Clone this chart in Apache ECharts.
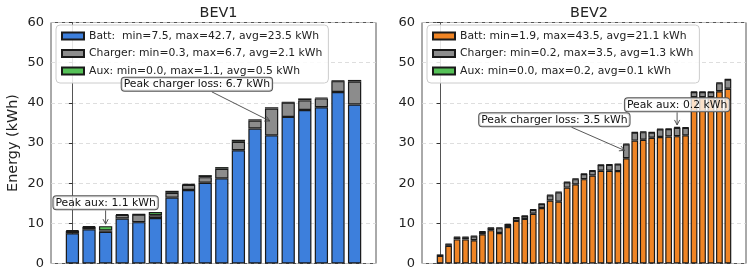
<!DOCTYPE html>
<html>
<head>
<meta charset="utf-8">
<script src="https://cdn.jsdelivr.net/npm/echarts@6/dist/echarts.min.js"></script>
<style>
  html, body { margin: 0; padding: 0; background: #fff; }
  #chart { width: 750px; height: 271px; }
</style>
</head>
<body>
<div id="chart"></div>
<script>
// panel titles
const titles = ['BEV1', 'BEV2']

// BEV1 stacked energy per trip (kWh)
const bev1Batt = [7.5, 8.5, 7.9, 11.2, 10.3, 11.3, 16.4, 18.3, 20.1, 21.2, 28.2, 33.6, 31.9, 36.5, 38.2, 38.9, 42.7, 39.6]
const bev1Charger = [0.6, 0.6, 0.3, 0.9, 1.9, 0.7, 1.2, 1.3, 1.4, 2.4, 2.1, 2.0, 6.7, 3.6, 2.4, 2.2, 2.7, 5.7]
const bev1Aux = [0.2, 0.2, 1.1, 0.2, 0.1, 0.8, 0.5, 0.2, 0.5, 0.4, 0.5, 0.3, 0.3, 0.1, 0.5, 0.2, 0.1, 0.4]

// BEV2 stacked energy per trip (kWh)
const bev2Batt = [1.9, 4.4, 6.0, 6.0, 5.8, 7.3, 8.3, 7.6, 9.1, 10.6, 11.1, 12.4, 13.8, 15.7, 15.4, 18.9, 19.7, 21.0, 21.9, 23.1, 23.1, 23.0, 26.2, 30.6, 30.8, 31.3, 31.5, 31.6, 31.7, 31.9, 41.4, 41.4, 41.4, 42.9, 43.5]
const bev2Charger = [0.2, 0.4, 0.5, 0.5, 1.0, 0.6, 0.5, 1.2, 0.6, 0.8, 0.7, 1.0, 1.0, 1.3, 2.3, 1.3, 1.3, 1.3, 1.2, 1.4, 1.5, 1.7, 3.5, 2.0, 1.9, 1.3, 1.9, 1.9, 2.1, 1.9, 1.3, 1.3, 1.3, 2.0, 2.3]
const bev2Aux = [0.0, 0.1, 0.1, 0.1, 0.1, 0.1, 0.1, 0.1, 0.1, 0.1, 0.1, 0.1, 0.1, 0.1, 0.1, 0.1, 0.1, 0.1, 0.1, 0.1, 0.1, 0.1, 0.1, 0.1, 0.1, 0.1, 0.1, 0.1, 0.2, 0.1, 0.1, 0.1, 0.1, 0.1, 0.1]

// legend labels
const bev1Labels = ['Batt:  min=7.5, max=42.7, avg=23.5 kWh', 'Charger: min=0.3, max=6.7, avg=2.1 kWh', 'Aux: min=0.0, max=1.1, avg=0.5 kWh']
const bev2Labels = ['Batt: min=1.9, max=43.5, avg=21.1 kWh', 'Charger: min=0.2, max=3.5, avg=1.3 kWh', 'Aux: min=0.0, max=0.2, avg=0.1 kWh']

// y ticks
const yMin = 0
const yMax = 60
const yStep = 10

// where the annotation boxes sit, in [bar index, kWh]
const chargerNotePos = [[7.5, 44.6], [13.5, 35.8]]
const auxNotePos = [[2, 15.1], [28, 39.5]]

const panels = [
  { batt: bev1Batt, charger: bev1Charger, aux: bev1Aux, labels: bev1Labels, battColor: '#3d7fdc' },
  { batt: bev2Batt, charger: bev2Charger, aux: bev2Aux, labels: bev2Labels, battColor: '#ef8424' }
]

const FONT = '"DejaVu Sans", sans-serif'
const frames = [
  { left: 51, top: 22.5, width: 325, height: 241 },
  { left: 422, top: 22.5, width: 324, height: 241 }
]

const chart = echarts.init(document.getElementById('chart'), null, { renderer: 'canvas' })

const grids = []
const xAxes = []
const yAxes = []
const series = []
const legends = []
const titleList = []

panels.forEach((p, k) => {
  const f = frames[k]
  const n = p.batt.length
  // matplotlib-like 5% x margins around the bars
  const pad = 0.05 * (n - 0.2)
  const xmin = -0.4 - pad
  const xmax = n - 0.6 + pad
  const pitch = f.width / (xmax - xmin)

  // outer grid: frame, y axis, dashed grid lines
  grids.push({ ...f, show: true, borderColor: '#555', borderWidth: 1, backgroundColor: 'transparent' })
  // inner grid: one category band per bar
  grids.push({ left: f.left + (-0.5 - xmin) * pitch, top: f.top, width: n * pitch, height: f.height })

  xAxes.push({
    gridIndex: 2 * k, type: 'value', min: xmin, max: xmax,
    axisLine: { show: false }, axisTick: { show: false }, axisLabel: { show: false }, splitLine: { show: false }
  })
  xAxes.push({
    gridIndex: 2 * k + 1, type: 'category', data: p.batt.map((v, i) => i),
    axisLine: { show: false }, axisTick: { show: false }, axisLabel: { show: false }, splitLine: { show: false }
  })
  yAxes.push({
    gridIndex: 2 * k, type: 'value', min: yMin, max: yMax, interval: yStep,
    name: k === 0 ? 'Energy (kWh)' : '',
    nameLocation: 'middle', nameGap: 31,
    nameTextStyle: { fontSize: 14.4, fontFamily: FONT, color: '#222' },
    axisLine: { show: true, lineStyle: { color: '#555', width: 1 } },
    axisTick: { show: true, length: 3.5, lineStyle: { color: '#333' } },
    axisLabel: { fontSize: 13, fontFamily: FONT, color: '#222', margin: 7 },
    splitLine: { show: true, lineStyle: { color: '#d6d6d6', type: [4, 3], width: 0.8 } }
  })
  yAxes.push({
    gridIndex: 2 * k + 1, type: 'value', min: yMin, max: yMax, show: false, splitLine: { show: false }
  })

  const parts = [
    { vals: p.batt, color: p.battColor },
    { vals: p.charger, color: '#8c8c8c' },
    { vals: p.aux, color: '#55c157' }
  ]
  parts.forEach((part, j) => {
    series.push({
      name: p.labels[j],
      type: 'bar',
      stack: 'panel' + k,
      xAxisIndex: 2 * k + 1, yAxisIndex: 2 * k + 1,
      barWidth: '80%',
      data: part.vals,
      itemStyle: { color: part.color, borderColor: '#1a1a1a', borderWidth: 1.2 },
      emphasis: { disabled: true }
    })
  })

  legends.push({
    orient: 'vertical',
    left: f.left + 5, top: 25,
    icon: 'rect', itemWidth: 22, itemHeight: 7, itemGap: 5.5,
    padding: [5, 6, 6, 5],
    backgroundColor: 'rgba(255,255,255,0.85)',
    borderColor: '#cccccc', borderWidth: 1, borderRadius: 4,
    selectedMode: false,
    textStyle: { fontSize: 10.8, fontFamily: FONT, color: '#222', lineHeight: 12 },
    data: p.labels
  })

  titleList.push({
    text: titles[k],
    left: f.left + f.width / 2, top: 1,
    textAlign: 'center',
    textStyle: { fontSize: 14.4, fontWeight: 'normal', fontFamily: FONT, color: '#222' }
  })
})

chart.setOption({
  animation: false,
  title: titleList,
  grid: grids,
  xAxis: xAxes,
  yAxis: yAxes,
  legend: legends,
  series
})

// annotation boxes with arrows, placed through the outer axes
const ctx = document.createElement('canvas').getContext('2d')
ctx.font = '10.8px ' + FONT
const graphics = []

function note (k, text, anchor, textPos) {
  const axes = { xAxisIndex: 2 * k, yAxisIndex: 2 * k }
  const a = chart.convertToPixel(axes, anchor)
  const c = chart.convertToPixel(axes, textPos)
  const hw = ctx.measureText(text).width / 2 + 3
  const hh = 7.5
  const dx = a[0] - c[0]
  const dy = a[1] - c[1]
  const t = Math.min(dx ? hw / Math.abs(dx) : Infinity, dy ? hh / Math.abs(dy) : Infinity)
  const s = [c[0] + dx * t, c[1] + dy * t]
  const len = Math.hypot(dx, dy)
  const ux = dx / len
  const uy = dy / len
  const e = [a[0] - ux * 2, a[1] - uy * 2]
  const h1 = [e[0] - ux * 5 - uy * 2.6, e[1] - uy * 5 + ux * 2.6]
  const h2 = [e[0] - ux * 5 + uy * 2.6, e[1] - uy * 5 - ux * 2.6]
  graphics.push({ type: 'polyline', z: 90, shape: { points: [s, e] }, style: { stroke: '#444', lineWidth: 0.9, fill: null } })
  graphics.push({ type: 'polyline', z: 90, shape: { points: [h1, e, h2] }, style: { stroke: '#444', lineWidth: 0.9, fill: null } })
  graphics.push({
    type: 'text', z: 100, x: c[0], y: c[1],
    style: {
      text, font: '10.8px ' + FONT, fill: '#111', align: 'center', verticalAlign: 'middle',
      backgroundColor: 'rgba(255,255,255,0.75)', borderColor: '#555', borderWidth: 1, borderRadius: 3,
      padding: [1, 2, 1, 2]
    }
  })
}

panels.forEach((p, k) => {
  const ci = p.charger.indexOf(Math.max(...p.charger))
  note(k, 'Peak charger loss: ' + p.charger[ci].toFixed(1) + ' kWh', [ci, p.batt[ci] + p.charger[ci] / 2], chargerNotePos[k])
  const ai = p.aux.indexOf(Math.max(...p.aux))
  note(k, 'Peak aux: ' + p.aux[ai].toFixed(1) + ' kWh', [ai, p.batt[ai] + p.charger[ai] + p.aux[ai]], auxNotePos[k])
})

chart.setOption({ graphic: graphics })
</script>
</body>
</html>
